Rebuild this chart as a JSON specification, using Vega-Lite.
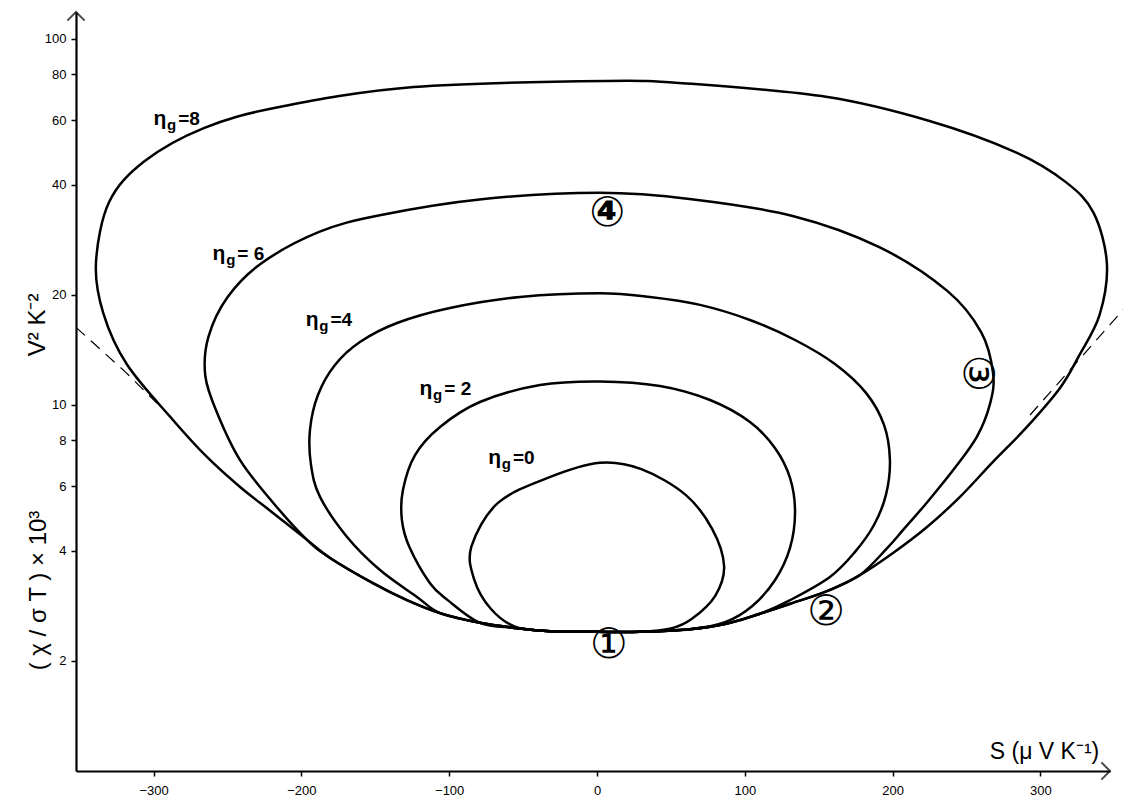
{
  "$schema": "https://vega.github.io/schema/vega-lite/v6.json",
  "width": 1034,
  "height": 759,
  "autosize": {"type": "none"},
  "padding": {"left": 76, "top": 12, "right": 13, "bottom": 36},
  "background": "white",
  "config": {"view": {"stroke": null}, "font": "Liberation Sans"},
  "datasets": {
    "loops": [
      {"c":"0","i":0,"S":2,"v":6.95},{"c":"0","i":1,"S":-32,"v":6.35},{"c":"0","i":2,"S":-67,"v":5.40},{"c":"0","i":3,"S":-85,"v":4.10},{"c":"0","i":4,"S":-83,"v":3.33},{"c":"0","i":5,"S":-72,"v":2.78},{"c":"0","i":6,"S":-55.5,"v":2.48},{"c":"0","i":7,"S":-31.8,"v":2.41},{"c":"0","i":8,"S":0,"v":2.40},{"c":"0","i":9,"S":29.1,"v":2.40},{"c":"0","i":10,"S":50,"v":2.45},{"c":"0","i":11,"S":64,"v":2.60},{"c":"0","i":12,"S":80,"v":3.01},{"c":"0","i":13,"S":86,"v":3.63},{"c":"0","i":14,"S":78,"v":4.58},{"c":"0","i":15,"S":60,"v":5.68},{"c":"0","i":16,"S":30,"v":6.68},
      {"c":"2","i":0,"S":2,"v":11.6},{"c":"2","i":1,"S":-38.6,"v":11.34},{"c":"2","i":2,"S":-79.2,"v":10.19},{"c":"2","i":3,"S":-106.2,"v":8.71},{"c":"2","i":4,"S":-123.1,"v":7.30},{"c":"2","i":5,"S":-131.3,"v":5.86},{"c":"2","i":6,"S":-132,"v":4.85},{"c":"2","i":7,"S":-127,"v":4.10},{"c":"2","i":8,"S":-113,"v":3.26},{"c":"2","i":9,"S":-101,"v":2.93},{"c":"2","i":10,"S":-79.2,"v":2.54},{"c":"2","i":11,"S":-55.5,"v":2.46},{"c":"2","i":12,"S":-31.8,"v":2.41},{"c":"2","i":13,"S":0,"v":2.40},{"c":"2","i":14,"S":29.1,"v":2.40},{"c":"2","i":15,"S":62.9,"v":2.44},{"c":"2","i":16,"S":86.6,"v":2.55},{"c":"2","i":17,"S":104.9,"v":2.82},{"c":"2","i":18,"S":120.4,"v":3.32},{"c":"2","i":19,"S":130.6,"v":4.07},{"c":"2","i":20,"S":134,"v":5.10},{"c":"2","i":21,"S":130.6,"v":6.32},{"c":"2","i":22,"S":120.4,"v":7.63},{"c":"2","i":23,"S":103.5,"v":8.99},{"c":"2","i":24,"S":76.5,"v":10.32},{"c":"2","i":25,"S":42.6,"v":11.27},
      {"c":"4","i":0,"S":2,"v":20.2},{"c":"4","i":1,"S":-52.1,"v":19.73},{"c":"4","i":2,"S":-99.5,"v":18.41},{"c":"4","i":3,"S":-135.3,"v":16.75},{"c":"4","i":4,"S":-160.4,"v":14.86},{"c":"4","i":5,"S":-177.3,"v":12.86},{"c":"4","i":6,"S":-188.8,"v":10.65},{"c":"4","i":7,"S":-194.2,"v":8.55},{"c":"4","i":8,"S":-193.5,"v":6.86},{"c":"4","i":9,"S":-187.4,"v":5.61},{"c":"4","i":10,"S":-169.1,"v":4.36},{"c":"4","i":11,"S":-146.8,"v":3.54},{"c":"4","i":12,"S":-121.8,"v":2.99},{"c":"4","i":13,"S":-106.2,"v":2.70},{"c":"4","i":14,"S":-79.2,"v":2.54},{"c":"4","i":15,"S":-55.5,"v":2.46},{"c":"4","i":16,"S":-31.8,"v":2.41},{"c":"4","i":17,"S":0,"v":2.40},{"c":"4","i":18,"S":29.1,"v":2.40},{"c":"4","i":19,"S":62.9,"v":2.44},{"c":"4","i":20,"S":86.6,"v":2.52},{"c":"4","i":21,"S":110.3,"v":2.69},{"c":"4","i":22,"S":130,"v":2.92},{"c":"4","i":23,"S":157.6,"v":3.39},{"c":"4","i":24,"S":174.6,"v":3.97},{"c":"4","i":25,"S":187.4,"v":4.70},{"c":"4","i":26,"S":195.5,"v":5.68},{"c":"4","i":27,"S":198.2,"v":7.07},{"c":"4","i":28,"S":194.2,"v":8.82},{"c":"4","i":29,"S":182,"v":10.79},{"c":"4","i":30,"S":161,"v":12.94},{"c":"4","i":31,"S":134,"v":15.05},{"c":"4","i":32,"S":103.5,"v":17.07},{"c":"4","i":33,"S":69.7,"v":18.77},{"c":"4","i":34,"S":35.9,"v":19.73},
      {"c":"6","i":0,"S":2,"v":38.0},{"c":"6","i":1,"S":-78,"v":36.5},{"c":"6","i":2,"S":-147,"v":33.0},{"c":"6","i":3,"S":-188,"v":29.7},{"c":"6","i":4,"S":-227,"v":24.4},{"c":"6","i":5,"S":-250,"v":19.7},{"c":"6","i":6,"S":-263,"v":15.3},{"c":"6","i":7,"S":-265,"v":12.0},{"c":"6","i":8,"S":-257,"v":9.51},{"c":"6","i":9,"S":-241.5,"v":7.07},{"c":"6","i":10,"S":-219,"v":5.40},{"c":"6","i":11,"S":-196.2,"v":4.28},{"c":"6","i":12,"S":-180.6,"v":3.82},{"c":"6","i":13,"S":-151.6,"v":3.26},{"c":"6","i":14,"S":-128.6,"v":2.93},{"c":"6","i":15,"S":-106.2,"v":2.70},{"c":"6","i":16,"S":-79.2,"v":2.54},{"c":"6","i":17,"S":-55.5,"v":2.46},{"c":"6","i":18,"S":-31.8,"v":2.41},{"c":"6","i":19,"S":0,"v":2.40},{"c":"6","i":20,"S":29.1,"v":2.40},{"c":"6","i":21,"S":62.9,"v":2.44},{"c":"6","i":22,"S":86.6,"v":2.52},{"c":"6","i":23,"S":110.3,"v":2.69},{"c":"6","i":24,"S":132.6,"v":2.88},{"c":"6","i":25,"S":155.6,"v":3.10},{"c":"6","i":26,"S":177.9,"v":3.43},{"c":"6","i":27,"S":196,"v":4.05},{"c":"6","i":28,"S":207,"v":4.55},{"c":"6","i":29,"S":223,"v":5.40},{"c":"6","i":30,"S":241,"v":6.64},{"c":"6","i":31,"S":257,"v":8.18},{"c":"6","i":32,"S":266,"v":10.1},{"c":"6","i":33,"S":268,"v":12.2},{"c":"6","i":34,"S":260,"v":15.8},{"c":"6","i":35,"S":237,"v":20.5},{"c":"6","i":36,"S":191,"v":27.0},{"c":"6","i":37,"S":133,"v":32.8},{"c":"6","i":38,"S":64,"v":36.5},
      {"c":"8","i":0,"S":6,"v":76.8},{"c":"8","i":1,"S":-124,"v":73.9},{"c":"8","i":2,"S":-215,"v":65.2},{"c":"8","i":3,"S":-266,"v":57.1},{"c":"8","i":4,"S":-306,"v":46.4},{"c":"8","i":5,"S":-330,"v":35.9},{"c":"8","i":6,"S":-339,"v":24.4},{"c":"8","i":7,"S":-334,"v":17.8},{"c":"8","i":8,"S":-318,"v":12.9},{"c":"8","i":9,"S":-286.9,"v":9.10},{"c":"8","i":10,"S":-263.9,"v":7.21},{"c":"8","i":11,"S":-241.5,"v":5.97},{"c":"8","i":12,"S":-219.2,"v":5.07},{"c":"8","i":13,"S":-196.2,"v":4.28},{"c":"8","i":14,"S":-180.6,"v":3.82},{"c":"8","i":15,"S":-151.6,"v":3.26},{"c":"8","i":16,"S":-128.6,"v":2.93},{"c":"8","i":17,"S":-106.2,"v":2.70},{"c":"8","i":18,"S":-79.2,"v":2.54},{"c":"8","i":19,"S":-55.5,"v":2.46},{"c":"8","i":20,"S":-31.8,"v":2.41},{"c":"8","i":21,"S":0,"v":2.40},{"c":"8","i":22,"S":29.1,"v":2.40},{"c":"8","i":23,"S":62.9,"v":2.44},{"c":"8","i":24,"S":86.6,"v":2.52},{"c":"8","i":25,"S":110.3,"v":2.69},{"c":"8","i":26,"S":132.6,"v":2.88},{"c":"8","i":27,"S":155.6,"v":3.10},{"c":"8","i":28,"S":177.9,"v":3.43},{"c":"8","i":29,"S":200.3,"v":3.94},{"c":"8","i":30,"S":223.3,"v":4.64},{"c":"8","i":31,"S":245.6,"v":5.61},{"c":"8","i":32,"S":267.9,"v":6.99},{"c":"8","i":33,"S":290.9,"v":8.71},{"c":"8","i":34,"S":313.3,"v":11.13},{"c":"8","i":35,"S":326,"v":13.6},{"c":"8","i":36,"S":340,"v":17.6},{"c":"8","i":37,"S":345,"v":24.3},{"c":"8","i":38,"S":336,"v":33.5},{"c":"8","i":39,"S":317,"v":40.7},{"c":"8","i":40,"S":283,"v":49.1},{"c":"8","i":41,"S":225,"v":59.7},{"c":"8","i":42,"S":156,"v":69.4},{"c":"8","i":43,"S":64,"v":75.4}
    ],
    "dashed": [
      {"side":"L","i":0,"S":-352.5,"v":16.3},{"side":"L","i":1,"S":-319,"v":12.3},{"side":"L","i":2,"S":-285,"v":9.0},
      {"side":"R","i":0,"S":293,"v":9.39},{"side":"R","i":1,"S":356,"v":18.2}
    ],
    "eta": [
      {"S":-284,"v":60.4,"t":"=8"},
      {"S":-244,"v":25.9,"t":"= 6"},
      {"S":-181,"v":17.1,"t":"=4"},
      {"S":-104,"v":11.06,"t":"= 2"},
      {"S":-57.5,"v":7.16,"t":"=0"}
    ],
    "circ": [
      {"S":8,"v":2.21,"t":"①"},
      {"S":155,"v":2.72,"t":"②"}
    ],
    "circ3": [{"S":257,"v":12.2,"t":"③"}],
    "circ4": [{"S":7,"v":33.5,"t":"④"}],
    "unit": [{"S":-378,"v":16.55,"t":"V² K⁻²"}]
  },
  "layer": [
    {
      "data": {"name": "loops"},
      "mark": {"type": "line", "interpolate": "cardinal-closed", "color": "black", "strokeWidth": 2.5},
      "encoding": {
        "x": {"field": "S", "type": "quantitative",
              "scale": {"domain": [-352.5, 347.1], "nice": false, "zero": false},
              "axis": {"values": [-300,-200,-100,0,100,200,300], "grid": false, "format": "d",
                       "domainColor": "black", "domainWidth": 2.2, "tickColor": "black", "tickWidth": 1.5, "tickSize": 5,
                       "labelFontSize": 13, "labelColor": "black", "labelPadding": 8,
                       "title": "S (μ V K⁻¹)", "titleX": 968, "titleY": -13, "titleAlign": "center", "titleBaseline": "alphabetic",
                       "titleFontSize": 23, "titleFontWeight": "normal", "titleColor": "black"}},
        "y": {"field": "v", "type": "quantitative",
              "scale": {"type": "log", "domain": [1, 118.5], "nice": false},
              "axis": {"values": [2,4,6,8,10,20,40,60,80,100], "grid": false, "format": "d",
                       "domainColor": "black", "domainWidth": 2.2, "tickColor": "black", "tickWidth": 1.5, "tickSize": 5,
                       "labelFontSize": 13, "labelColor": "black", "labelPadding": 5,
                       "title": "( χ / σ T ) × 10³", "titleX": -26, "titleY": 578, "titleAngle": -90,
                       "titleAlign": "center", "titleBaseline": "bottom",
                       "titleFontSize": 24, "titleFontWeight": "normal", "titleColor": "black"}},
        "detail": {"field": "c"},
        "order": {"field": "i"}
      }
    },
    {
      "data": {"name": "dashed"},
      "mark": {"type": "line", "color": "black", "strokeWidth": 1.2, "strokeDash": [12, 8]},
      "encoding": {
        "x": {"field": "S", "type": "quantitative"},
        "y": {"field": "v", "type": "quantitative"},
        "detail": {"field": "side"},
        "order": {"field": "i"}
      }
    },
    {
      "data": {"name": "unit"},
      "mark": {"type": "text", "align": "center", "baseline": "middle", "angle": 270, "fontSize": 24, "color": "black"},
      "encoding": {"x": {"field": "S", "type": "quantitative"}, "y": {"field": "v", "type": "quantitative"}, "text": {"field": "t"}}
    },
    {
      "data": {"name": "eta"},
      "mark": {"type": "text", "text": "η", "align": "right", "baseline": "middle", "dx": -11, "fontSize": 21, "fontWeight": "bold", "color": "black"},
      "encoding": {"x": {"field": "S", "type": "quantitative"}, "y": {"field": "v", "type": "quantitative"}}
    },
    {
      "data": {"name": "eta"},
      "mark": {"type": "text", "text": "g", "align": "right", "baseline": "middle", "dx": -1, "dy": 6, "fontSize": 15, "fontWeight": "bold", "color": "black"},
      "encoding": {"x": {"field": "S", "type": "quantitative"}, "y": {"field": "v", "type": "quantitative"}}
    },
    {
      "data": {"name": "eta"},
      "mark": {"type": "text", "align": "left", "baseline": "middle", "dx": 1, "fontSize": 19, "fontWeight": "bold", "color": "black"},
      "encoding": {"x": {"field": "S", "type": "quantitative"}, "y": {"field": "v", "type": "quantitative"}, "text": {"field": "t"}}
    },
    {
      "data": {"name": "circ"},
      "mark": {"type": "text", "align": "center", "baseline": "middle", "fontSize": 42, "font": "DejaVu Sans", "color": "black"},
      "encoding": {"x": {"field": "S", "type": "quantitative"}, "y": {"field": "v", "type": "quantitative"}, "text": {"field": "t"}}
    },
    {
      "data": {"name": "circ3"},
      "mark": {"type": "text", "align": "center", "baseline": "middle", "angle": 90, "fontSize": 42, "font": "DejaVu Sans", "color": "black"},
      "encoding": {"x": {"field": "S", "type": "quantitative"}, "y": {"field": "v", "type": "quantitative"}, "text": {"field": "t"}}
    },
    {
      "data": {"name": "circ4"},
      "mark": {"type": "text", "align": "center", "baseline": "middle", "fontSize": 42, "fontWeight": "bold", "font": "DejaVu Sans", "color": "black"},
      "encoding": {"x": {"field": "S", "type": "quantitative"}, "y": {"field": "v", "type": "quantitative"}, "text": {"field": "t"}}
    },
    {
      "data": {"values": [{}]},
      "mark": {"type": "point", "shape": "M -1 1 L 0 0 L 1 1", "filled": false, "stroke": "black", "strokeWidth": 2, "size": 300},
      "encoding": {"x": {"datum": -352.5, "type": "quantitative"}, "y": {"datum": 118.5, "type": "quantitative"}}
    },
    {
      "data": {"values": [{}]},
      "mark": {"type": "point", "shape": "M -1 -1 L 0 0 L -1 1", "filled": false, "stroke": "black", "strokeWidth": 2, "size": 300},
      "encoding": {"x": {"datum": 347.1, "type": "quantitative"}, "y": {"datum": 1, "type": "quantitative"}}
    }
  ]
}
